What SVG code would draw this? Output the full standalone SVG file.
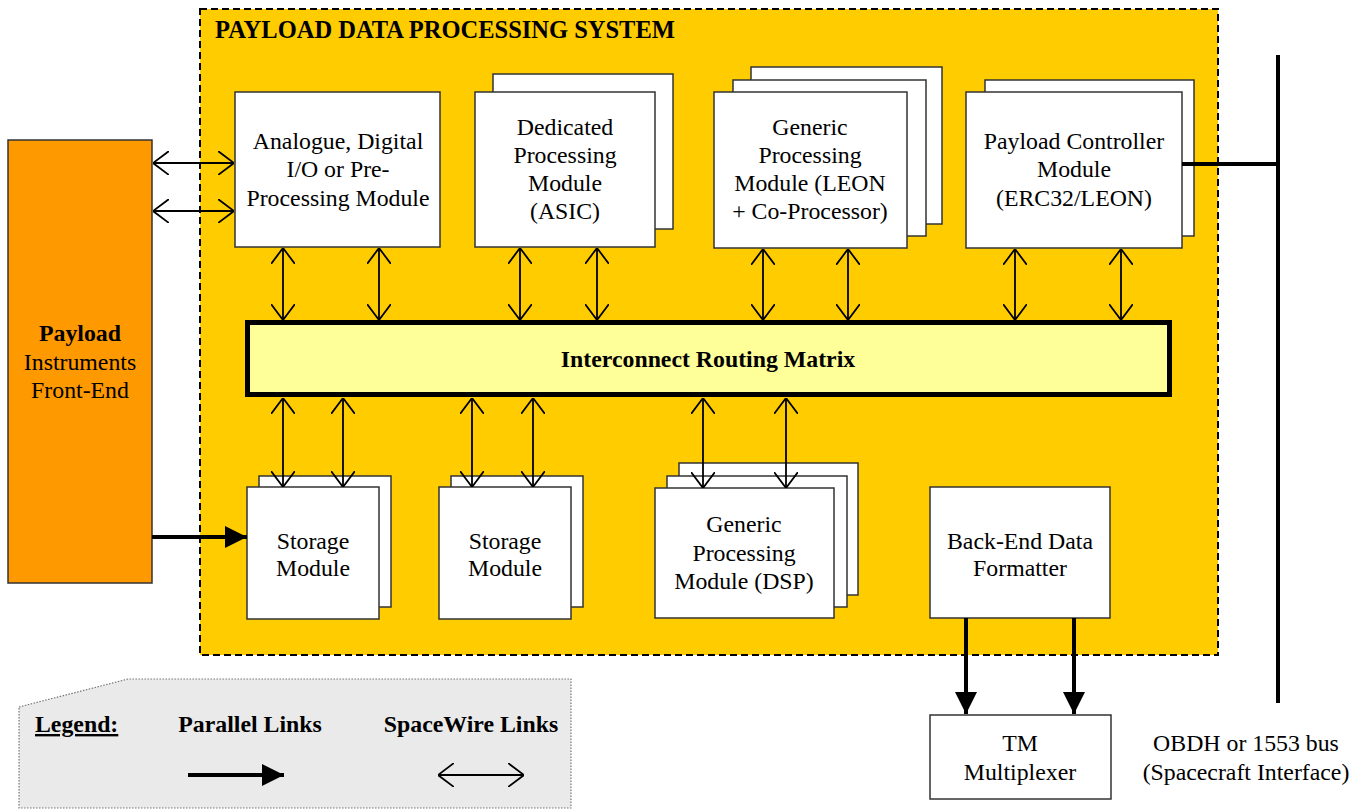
<svg xmlns="http://www.w3.org/2000/svg" width="1369" height="811" viewBox="0 0 1369 811">
<defs>
<style>
text{font-family:"Liberation Serif","Times New Roman",serif;font-size:23.8px;fill:#000}
.c{text-anchor:middle}
.b{font-weight:bold}
.t{font-size:24.5px}
.box{fill:#fff;stroke:#333;stroke-width:1.5}
.sw{stroke:#000;stroke-width:1.8;fill:none;marker-start:url(#open);marker-end:url(#open)}
.pl{stroke:#000;stroke-width:4;fill:none;marker-end:url(#solid)}
</style>
<marker id="open" viewBox="0 0 16 24" refX="16" refY="12" markerWidth="16" markerHeight="24" markerUnits="userSpaceOnUse" orient="auto-start-reverse">
<path d="M0,0 L16,12 L0,24" fill="none" stroke="#000" stroke-width="1.8"/>
</marker>
<marker id="solid" viewBox="0 0 22 22" refX="22" refY="11" markerWidth="22" markerHeight="22" markerUnits="userSpaceOnUse" orient="auto">
<path d="M0,0 L22,11 L0,22 Z" fill="#000"/>
</marker>
</defs>
<rect width="1369" height="811" fill="#fff"/>

<g id="pdps">
<rect x="200" y="9" width="1018" height="646" fill="#FFCC00" stroke="#000" stroke-width="2" stroke-dasharray="7,4"/>
<text x="215" y="38" class="b t">PAYLOAD DATA PROCESSING SYSTEM</text>
</g>

<g id="payload">
<rect x="8" y="140" width="144" height="443" fill="#FF9900" stroke="#333" stroke-width="1.5"/>
<text x="80" y="341" class="c b">Payload</text>
<text x="80" y="370" class="c">Instruments</text>
<text x="80" y="398" class="c">Front-End</text>
</g>

<g id="analogue">
<rect x="235" y="92" width="205" height="155" class="box"/>
<text x="338" y="149" class="c">Analogue, Digital</text>
<text x="338" y="177" class="c">I/O or Pre-</text>
<text x="338" y="206" class="c">Processing Module</text>
</g>

<g id="dedicated">
<rect x="493" y="74" width="180" height="155" class="box"/>
<rect x="475" y="92" width="180" height="155" class="box"/>
<text x="565" y="135" class="c">Dedicated</text>
<text x="565" y="163" class="c">Processing</text>
<text x="565" y="191" class="c">Module</text>
<text x="565" y="219" class="c">(ASIC)</text>
</g>

<g id="generic-leon">
<rect x="751" y="67" width="191" height="157" class="box"/>
<rect x="733" y="80" width="193" height="156" class="box"/>
<rect x="714" y="92" width="193" height="156" class="box"/>
<text x="810" y="135" class="c">Generic</text>
<text x="810" y="163" class="c">Processing</text>
<text x="810" y="191" class="c">Module (LEON</text>
<text x="810" y="219" class="c">+ Co-Processor)</text>
</g>

<g id="controller">
<rect x="985" y="80" width="209" height="156" class="box"/>
<rect x="966" y="92" width="216" height="156" class="box"/>
<text x="1074" y="149" class="c">Payload Controller</text>
<text x="1074" y="177" class="c">Module</text>
<text x="1074" y="206" class="c">(ERC32/LEON)</text>
</g>

<g id="matrix">
<rect x="247.5" y="322.5" width="922" height="72" fill="#FFFF99" stroke="#000" stroke-width="5"/>
<text x="708" y="367" class="c b">Interconnect Routing Matrix</text>
</g>

<g id="storage1">
<rect x="259" y="476" width="132" height="131" class="box"/>
<rect x="247" y="487" width="132" height="132" class="box"/>
<text x="313" y="549" class="c">Storage</text>
<text x="313" y="576" class="c">Module</text>
</g>

<g id="storage2">
<rect x="451" y="476" width="132" height="131" class="box"/>
<rect x="439" y="487" width="132" height="132" class="box"/>
<text x="505" y="549" class="c">Storage</text>
<text x="505" y="576" class="c">Module</text>
</g>

<g id="generic-dsp">
<rect x="679" y="463" width="179" height="132" class="box"/>
<rect x="667" y="476" width="180" height="131" class="box"/>
<rect x="655" y="488" width="179" height="130" class="box"/>
<text x="744" y="532" class="c">Generic</text>
<text x="744" y="561" class="c">Processing</text>
<text x="744" y="589" class="c">Module (DSP)</text>
</g>

<g id="formatter">
<rect x="930" y="487" width="180" height="131" class="box"/>
<text x="1020" y="549" class="c">Back-End Data</text>
<text x="1020" y="576" class="c">Formatter</text>
</g>

<g id="tm">
<rect x="930" y="715" width="181" height="84" class="box"/>
<text x="1020" y="751" class="c">TM</text>
<text x="1020" y="780" class="c">Multiplexer</text>
</g>

<g id="bus">
<line x1="1278" y1="55" x2="1278" y2="703" stroke="#000" stroke-width="4"/>
<text x="1246" y="751" class="c">OBDH or 1553 bus</text>
<text x="1246" y="780" class="c">(Spacecraft Interface)</text>
</g>

<g id="connectors">
<line x1="153" y1="163" x2="234" y2="163" class="sw"/>
<line x1="153" y1="211" x2="234" y2="211" class="sw"/>
<line x1="152" y1="537" x2="247" y2="537" class="pl"/>
<line x1="1182" y1="164" x2="1278" y2="164" stroke="#000" stroke-width="4"/>

<line x1="283" y1="248" x2="283" y2="320" class="sw"/>
<line x1="379" y1="248" x2="379" y2="320" class="sw"/>
<line x1="520" y1="248" x2="520" y2="320" class="sw"/>
<line x1="597" y1="248" x2="597" y2="320" class="sw"/>
<line x1="763" y1="249" x2="763" y2="320" class="sw"/>
<line x1="848" y1="249" x2="848" y2="320" class="sw"/>
<line x1="1015" y1="249" x2="1015" y2="320" class="sw"/>
<line x1="1121" y1="249" x2="1121" y2="320" class="sw"/>

<line x1="283" y1="398" x2="283" y2="487" class="sw"/>
<line x1="343" y1="398" x2="343" y2="487" class="sw"/>
<line x1="472" y1="398" x2="472" y2="487" class="sw"/>
<line x1="533" y1="398" x2="533" y2="487" class="sw"/>
<line x1="703" y1="398" x2="703" y2="488" class="sw"/>
<line x1="786" y1="398" x2="786" y2="488" class="sw"/>

<line x1="966" y1="618" x2="966" y2="714" class="pl"/>
<line x1="1074" y1="618" x2="1074" y2="714" class="pl"/>
</g>

<g id="legend">
<path d="M19,707 L128,679 L571,679 L571,808 L19,808 Z" fill="#EAEAEA" stroke="#777" stroke-width="1.2" stroke-dasharray="1.5,1.5"/>
<text x="35" y="732" class="b" text-decoration="underline">Legend:</text>
<text x="250" y="732" class="c b">Parallel Links</text>
<text x="471" y="732" class="c b">SpaceWire Links</text>
<line x1="188" y1="775" x2="284" y2="775" class="pl"/>
<line x1="438" y1="775" x2="524" y2="775" class="sw"/>
</g>
</svg>
